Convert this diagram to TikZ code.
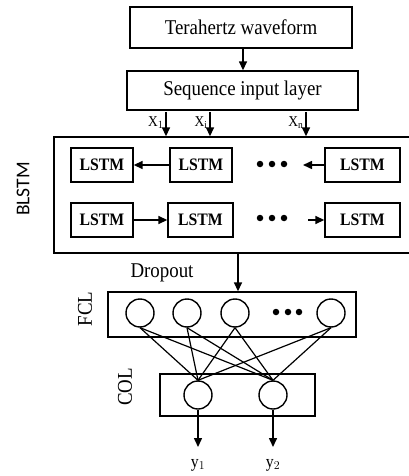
\documentclass[tikz,border=0pt]{standalone}
\usepackage{fontspec}
\setmainfont[FakeStretch=0.9]{Liberation Serif}
\newfontfamily\sansf{Carlito}
\usetikzlibrary{arrows.meta}
\begin{document}
\begin{tikzpicture}[x=1pt,y=-1pt,
  box/.style={draw,line width=1.4pt,inner sep=0pt,anchor=center},
  lstm/.style={box,minimum height=34pt,font=\fontsize{17.5}{18}\selectfont\bfseries},
  neuron/.style={draw,line width=1.4pt,circle,minimum size=28pt,inner sep=0pt},
  arr/.style={-{Triangle[length=9pt,width=8pt]},line width=1.5pt},
  wire/.style={line width=1.2pt},
  lbl/.style={inner sep=0pt,font=\fontsize{21}{22}\selectfont},
  xl/.style={inner sep=0pt,anchor=east,font=\fontsize{15}{16}\selectfont},
  yl/.style={inner sep=0pt,font=\fontsize{17.5}{18}\selectfont},
  dot/.style={fill,circle,minimum size=6.5pt,inner sep=0pt}]
\useasboundingbox (0,0) rectangle (409,476);
% top boxes
\node[box,minimum width=222pt,minimum height=41pt,lbl] (tera) at (241,27.5) {Terahertz waveform};
\node[box,minimum width=231pt,minimum height=39pt,lbl] (seq) at (242.5,90.5) {Sequence input layer};
\draw[arr] (tera.south -| 243,0) -- (seq.north -| 243,0);
% BLSTM box (right edge lies beyond the picture)
\node[box,minimum width=364pt,minimum height=116pt] (blstm) at (236,195) {};
\node[lbl,rotate=90,font=\sansf\fontsize{19.5}{20}\selectfont] (blbl) at (23,189) {BLSTM};
% X inputs
\coordinate (xa1) at (166,112); \coordinate (xb1) at (210,112); \coordinate (xc1) at (306,112);
\draw[arr] (xa1) -- (xa1 |- blstm.north);
\draw[arr] (xb1) -- (xb1 |- blstm.north);
\draw[arr] (xc1) -- (xc1 |- blstm.north);
\node[xl] (xla) at (164,123) {X$_1$};
\node[xl] (xlb) at (208,123) {X$_\mathrm{i}$};
\node[xl] (xlc) at (304,123) {X$_\mathrm{n}$};
% LSTM rows
\node[lstm,minimum width=62pt] (r1a) at (102,165) {LSTM};
\node[lstm,minimum width=62pt] (r1b) at (201,165) {LSTM};
\node[lstm,minimum width=75pt] (r1c) at (362.5,165) {LSTM};
\node[lstm,minimum width=62pt] (r2a) at (102,220) {LSTM};
\node[lstm,minimum width=65pt] (r2b) at (200.5,220) {LSTM};
\node[lstm,minimum width=75pt] (r2c) at (362.5,220) {LSTM};
\node[dot] (d11) at (260,164) {}; \node[dot] (d12) at (272,164) {}; \node[dot] (d13) at (284,164) {};
\node[dot] (d21) at (260,218) {}; \node[dot] (d22) at (272,218) {}; \node[dot] (d23) at (284,218) {};
\coordinate (f1) at (303,165); \coordinate (f2) at (308,220);
\draw[arr] (r1b.west) -- (r1a.east);
\draw[arr] (r1c.west) -- (f1);
\draw[arr] (r2a.east) -- (r2b.west);
\draw[arr] (f2) -- (r2c.west);
% FCL
\node[box,minimum width=248pt,minimum height=45pt] (fcl) at (232,314.5) {};
\node[lbl,rotate=90] (flbl) at (85,309) {FCL};
\node[lbl,anchor=center] (drop) at (162,273) {Dropout};
\coordinate (dsrc) at (238,253);
\draw[arr] (dsrc |- blstm.south) -- (dsrc |- fcl.north);
\node[neuron] (c1) at (140,313) {};
\node[neuron] (c2) at (187,313) {};
\node[neuron] (c3) at (235,313) {};
\node[neuron] (c4) at (331,313) {};
\node[dot] (e1) at (276,312) {}; \node[dot] (e2) at (288,312) {}; \node[dot] (e3) at (299,312) {};
% COL
\node[box,minimum width=155pt,minimum height=42pt] (col) at (237.5,395) {};
\node[lbl,rotate=90] (clbl) at (125,387) {COL};
\node[neuron] (o1) at (198,395) {};
\node[neuron] (o2) at (273,395) {};
\foreach \c in {c1,c2,c3,c4}{
  \draw[wire] (\c.south) -- (o1.north);
  \draw[wire] (\c.south) -- (o2.north);
}
\coordinate (y1e) at (198,447); \coordinate (y2e) at (273,447);
\draw[arr] (o1.south) -- (y1e);
\draw[arr] (o2.south) -- (y2e);
\node[yl] (y1) at (198,465) {y$_1$};
\node[yl] (y2) at (273,465) {y$_2$};
\end{tikzpicture}
\end{document}
